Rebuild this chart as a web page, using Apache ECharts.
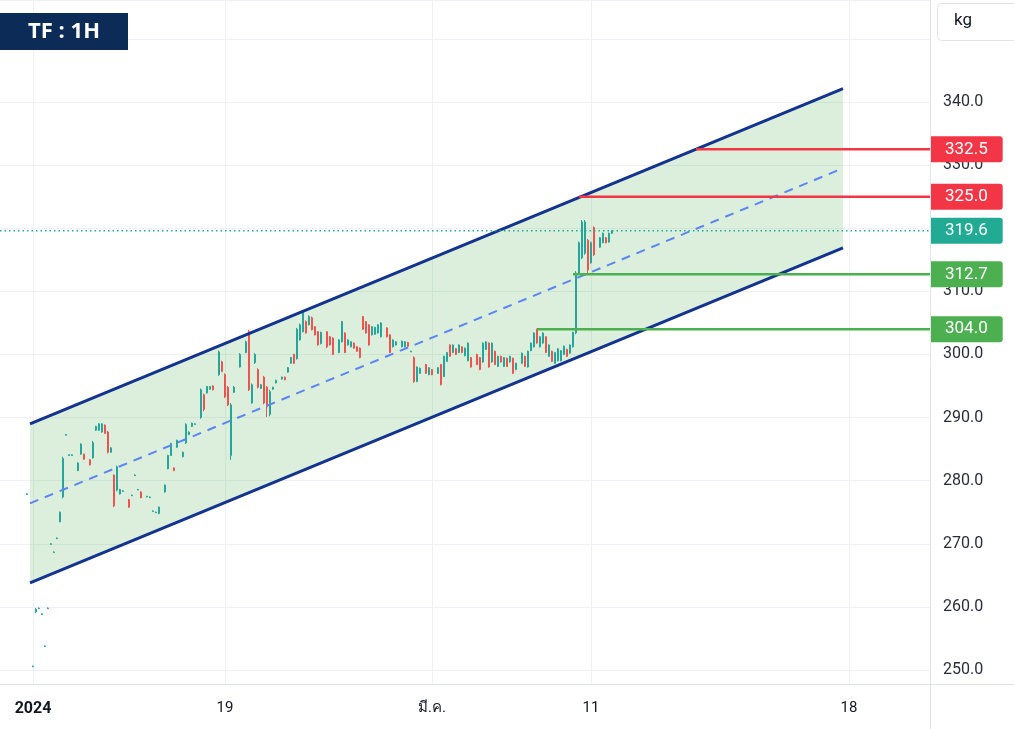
<!DOCTYPE html>
<html><head><meta charset="utf-8">
<script src="https://cdn.jsdelivr.net/npm/echarts@6.0.0/dist/echarts.min.js"></script>
<style>html,body{margin:0;padding:0;background:#fff}#c{width:1014px;height:729px}</style>
</head><body><div id="c"></div>
<script>
// ---- data ----
const slotCount = 311;                       // hourly bar slots incl. future space
const tickIdx  = [11, 75, 144, 197, 283];
const tickText = ['2024', '19', 'มี.ค.', '11', '18'];
const priceTicks = [250, 260, 270, 280, 290, 300, 310, 320, 330, 340];
// [barIndex, open, close, low, high]
const candleRows = [
[9,277.8,277.9,277.8,278.0],[11,250.5,250.6,250.5,250.7],[12,259.2,259.6,259.0,259.8],[13,259.7,259.8,259.7,259.9],
[14,258.8,258.9,258.8,259.0],[15,253.7,253.8,253.7,253.9],[16,259.7,259.8,259.7,259.9],[17,269.9,270.0,269.9,270.1],
[18,268.6,268.7,268.6,268.8],[19,270.8,270.9,270.8,271.0],[20,273.5,275.0,273.4,275.1],[21,277.4,283.5,277.2,283.8],
[22,287.2,287.3,287.2,287.4],[23,284.0,284.1,283.9,284.2],[24,284.0,284.1,284.0,284.2],[26,281.6,282.8,281.5,282.9],
[27,284.2,285.8,284.1,285.9],[28,284.2,283.4,283.3,284.3],[30,283.3,282.5,282.4,283.4],[31,283.6,286.0,283.5,286.3],
[32,288.0,288.6,287.9,288.7],[33,288.0,289.0,287.9,289.1],[34,287.7,289.0,287.6,289.1],[35,288.8,287.5,287.4,288.9],
[36,287.7,284.5,284.3,287.9],[37,284.5,285.2,284.4,285.3],[38,280.9,276.0,275.8,281.0],[39,278.5,282.2,278.3,282.4],
[40,277.9,278.6,277.8,278.7],[41,278.3,278.4,278.3,278.5],[43,277.0,275.8,275.7,277.1],[44,277.6,277.7,277.6,277.8],
[45,280.8,280.9,280.8,281.0],[46,278.5,278.6,278.5,278.7],[47,278.2,277.3,277.2,278.3],[49,277.4,277.5,277.4,277.6],
[50,277.3,277.4,277.3,277.5],[51,275.1,275.2,275.1,275.3],[52,274.9,275.0,274.9,275.1],[53,274.8,275.8,274.7,275.9],
[55,278.2,279.3,278.1,279.4],[56,281.9,284.0,281.8,284.1],[57,284.0,285.9,283.9,286.0],[58,282.0,281.6,281.5,282.1],
[59,285.3,286.4,285.2,286.5],[61,283.8,284.5,283.7,284.6],[62,286.0,288.9,285.8,289.1],[63,287.3,287.7,287.2,287.8],
[64,288.6,289.1,288.5,289.2],[65,288.9,289.0,288.9,289.1],[67,290.0,294.4,289.8,294.6],[68,293.6,291.3,291.0,293.8],
[69,293.9,294.9,293.8,295.0],[70,294.5,294.9,294.4,295.0],[71,295.0,294.4,294.3,295.1],[73,296.8,300.4,296.6,300.6],
[74,298.8,297.3,297.2,299.0],[75,296.8,293.3,293.1,297.0],[76,294.8,292.0,291.8,295.0],[77,284.0,292.0,283.3,292.3],
[78,294.0,294.8,293.9,295.0],[80,298.0,300.0,297.9,300.2],[82,300.3,302.0,300.2,302.2],[83,303.6,294.4,294.2,303.9],
[84,292.3,295.2,292.2,295.4],[85,298.7,300.0,298.5,300.2],[86,297.6,294.8,294.6,297.8],[87,294.6,295.2,294.5,295.3],
[88,296.4,292.3,292.1,296.6],[89,294.8,291.7,290.1,295.0],[90,290.5,294.1,290.2,294.4],[91,294.5,294.8,294.4,294.9],
[92,295.5,295.9,295.4,296.0],[94,296.1,296.4,296.0,296.5],[95,296.4,296.0,295.9,296.5],[96,297.2,297.9,297.1,298.0],
[97,298.6,299.5,298.5,299.6],[98,300.0,298.6,298.5,300.1],[99,299.3,304.0,299.2,304.2],[100,302.3,304.7,302.2,304.9],
[101,303.6,306.6,303.5,306.8],[102,305.2,303.4,303.3,305.4],[103,304.7,306.0,304.6,306.2],[104,305.8,303.9,303.8,306.0],
[105,304.4,303.1,303.0,304.5],[106,303.6,301.5,301.4,303.7],[107,301.7,303.5,301.6,303.6],[109,303.6,301.2,301.0,303.7],
[110,302.8,301.5,301.4,302.9],[111,302.6,300.0,299.9,302.7],[113,300.3,302.3,300.2,302.4],[114,302.0,305.2,301.9,305.3],
[115,303.4,300.3,300.2,303.5],[116,301.5,302.3,301.4,302.4],[117,301.2,302.0,301.1,302.1],[118,301.8,301.0,300.9,301.9],
[119,301.2,300.5,300.4,301.3],[120,301.0,299.5,299.4,301.1],[121,306.0,304.0,303.9,306.1],[122,305.2,303.4,303.3,305.3],
[123,304.7,301.5,301.4,304.8],[124,303.1,304.4,303.0,304.5],[125,303.2,304.3,303.1,304.4],[126,303.4,304.7,303.3,304.8],
[127,302.8,305.0,302.7,305.1],[129,304.2,302.8,302.7,304.3],[130,303.1,300.3,300.2,303.2],[131,301.2,302.3,301.1,302.4],
[132,301.5,302.0,301.4,302.1],[134,301.2,302.1,301.1,302.2],[135,301.2,302.0,301.1,302.1],[136,301.9,301.3,301.2,302.0],
[137,300.4,300.5,300.4,300.6],[138,299.5,295.7,295.5,299.7],[139,295.7,298.0,295.6,298.1],[140,297.0,297.8,296.9,297.9],
[142,298.4,297.0,296.9,298.5],[143,296.8,297.9,296.7,298.0],[144,297.6,296.8,296.7,297.7],[146,297.0,297.9,296.9,298.0],
[147,298.4,295.2,295.1,298.5],[148,296.5,299.7,296.4,299.8],[149,298.9,300.3,298.8,300.4],[150,301.5,299.7,299.6,301.6],
[151,300.3,301.5,300.2,301.6],[152,300.9,300.0,299.9,301.0],[153,300.3,301.5,300.2,301.6],[154,301.2,300.3,300.2,301.3],
[155,299.8,301.0,299.7,301.1],[156,299.0,301.8,298.9,301.9],[157,299.5,298.0,297.9,299.6],[159,300.0,298.4,298.3,300.1],
[160,299.5,297.6,297.5,299.6],[161,298.8,301.8,298.7,301.9],[162,300.8,302.0,300.7,302.1],[163,301.8,298.0,297.9,301.9],
[164,298.8,301.8,298.7,301.9],[165,300.5,298.4,298.3,300.6],[166,298.1,299.7,298.0,299.8],[167,299.7,298.8,298.7,299.8],
[168,298.1,299.5,298.0,299.6],[169,299.4,298.1,298.0,299.5],[170,298.8,299.7,298.7,299.8],[171,299.4,297.0,296.9,299.5],
[172,297.6,298.6,297.5,298.7],[174,298.6,300.2,298.5,300.3],[175,299.7,298.1,298.0,299.8],[176,298.0,300.5,297.9,300.6],
[177,300.6,301.8,300.5,301.9],[178,301.2,303.4,301.1,303.5],[179,303.9,301.8,301.7,304.1],[180,301.2,302.8,301.1,302.9],
[181,301.8,303.4,301.7,303.5],[182,302.8,300.3,300.2,302.9],[183,299.7,301.5,299.6,301.6],[184,300.5,298.9,298.8,300.6],
[185,298.6,300.3,298.5,300.4],[186,299.0,300.9,298.9,301.0],[187,299.0,300.6,298.9,300.7],[188,300.0,301.3,299.9,301.4],
[189,300.8,299.7,299.6,300.9],[190,300.2,301.5,300.1,301.6],[191,301.2,303.5,301.1,303.6],[192,303.4,312.9,303.2,313.2],
[193,312.9,317.7,312.7,317.9],[194,315.3,321.0,315.1,321.3],[195,316.0,321.0,315.8,321.3],[196,318.1,313.4,312.8,318.3],
[197,314.5,317.7,314.4,317.9],[198,320.1,315.8,315.6,320.3],[200,317.0,318.5,316.9,318.6],[201,317.7,319.2,317.6,319.3],
[202,318.5,317.7,317.6,318.6],[203,317.8,319.2,317.7,319.3],[204,319.2,319.6,319.1,319.7]
];
// channel (parallel trend lines), bar index of both ends
const channelIdx   = [10, 281];
const channelUpper = [289.0, 342.1];
const channelMid   = [276.4, 329.5];
const channelLower = [263.8, 316.9];
// price levels
const levelValues = [332.5, 325.0, 319.6, 312.7, 304.0];
const levelStart  = [232, 193, 0, 191, 179];
</script>
<script>
const levelColors = ['#f23645', '#f23645', '#22ab94', '#4caf50', '#4caf50'];
const levelDotted = [false, false, true, false, false];
const FONT = 'Roboto, "Liberation Sans", "DejaVu Sans", sans-serif';

const categories = [];
for (let i = 0; i < slotCount; i++) {
  const k = tickIdx.indexOf(i);
  categories.push(k >= 0 ? tickText[k] : '');
}
const ohlc = [];
for (let i = 0; i < slotCount; i++) ohlc.push('-');
candleRows.forEach(r => { ohlc[r[0]] = [r[1], r[2], r[3], r[4]]; });

const isTick = (i) => tickIdx.indexOf(i) >= 0;
const last = slotCount - 1;

const series = [];
series.push({
  type: 'custom', z: 1, silent: true, data: [[0]],
  renderItem: function (params, api) {
    const pts = [
      api.coord([channelIdx[0], channelUpper[0]]),
      api.coord([channelIdx[1], channelUpper[1]]),
      api.coord([channelIdx[1], channelLower[1]]),
      api.coord([channelIdx[0], channelLower[0]])
    ];
    return { type: 'polygon', shape: { points: pts }, style: { fill: 'rgba(76,175,80,0.2)' } };
  }
});
series.push({
  type: 'candlestick', z: 2, data: ohlc, barWidth: 2,
  itemStyle: { color: '#26a69a', color0: '#ef5350', borderColor: '#26a69a', borderColor0: '#ef5350', borderWidth: 1 }
});
function chanLine(vals, style) {
  return { type: 'line', z: 4, showSymbol: false, symbol: 'none', silent: true,
    data: [[channelIdx[0], vals[0]], [channelIdx[1], vals[1]]], lineStyle: style };
}
series.push(chanLine(channelUpper, { color: '#13338f', width: 3 }));
series.push(chanLine(channelLower, { color: '#13338f', width: 3 }));
series.push(chanLine(channelMid, { color: '#5b84f5', width: 2, type: [9, 7] }));

levelValues.forEach((v, i) => {
  series.push({
    type: 'line', z: 5, showSymbol: false, symbol: 'none', silent: true,
    data: [[levelStart[i], v], [last, v]],
    lineStyle: levelDotted[i] ? { color: levelColors[i], width: 1.5, type: [1.5, 3] } : { color: levelColors[i], width: 2.5 },
    endLabel: {
      show: true, distance: 0, formatter: v.toFixed(1),
      color: '#ffffff', backgroundColor: levelColors[i], fontFamily: FONT, fontSize: 17,
      lineHeight: 19, padding: [4, 15, 3, 15], borderRadius: [0, 3, 3, 0]
    }
  });
});

const chart = echarts.init(document.getElementById('c'), null, { renderer: 'canvas' });
chart.setOption({
  animation: false,
  backgroundColor: '#ffffff',
  grid: { left: 0, right: 84, top: 0, bottom: 45, containLabel: false, outerBoundsMode: 'none' },
  xAxis: {
    type: 'category', data: categories, boundaryGap: false,
    axisLine: { show: true, lineStyle: { color: '#e0e3eb', width: 1 } },
    axisTick: { show: false },
    axisLabel: {
      interval: (i) => isTick(i), margin: 17, color: '#131722', fontFamily: FONT, fontSize: 15,
      formatter: (v) => v === '2024' ? '{y|2024}' : v,
      rich: { y: { fontWeight: 'bold', fontSize: 16, color: '#131722', fontFamily: FONT } }
    },
    splitLine: { show: true, interval: (i) => isTick(i), lineStyle: { color: '#eef0f4', width: 1 } }
  },
  yAxis: {
    type: 'value', position: 'right', min: 247.78, max: 356.16, splitNumber: 11, scale: true,
    axisLine: { show: false }, axisTick: { show: false },
    axisLabel: {
      margin: 13, color: '#2a2e39', fontFamily: FONT, fontSize: 16,
      showMinLabel: false, showMaxLabel: false,
      formatter: (v) => {
        const r = Math.round(v);
        return priceTicks.indexOf(r) >= 0 && Math.abs(v - r) < 1e-6 ? r.toFixed(1) : '';
      }
    },
    splitLine: { show: true, lineStyle: { color: '#eef0f4', width: 1 } }
  },
  graphic: [
    { type: 'line', z: 50, silent: true, shape: { x1: 930.5, y1: 0, x2: 930.5, y2: 729 }, style: { stroke: '#e0e3eb', lineWidth: 1 } },
    { type: 'line', z: 50, silent: true, shape: { x1: 0, y1: 684.5, x2: 1014, y2: 684.5 }, style: { stroke: '#e0e3eb', lineWidth: 1 } },
    { type: 'rect', z: 100, silent: true, shape: { x: 0, y: 13, width: 128, height: 37 }, style: { fill: '#0c2b57' } },
    { type: 'text', z: 101, silent: true, x: 64, y: 32,
      style: { text: 'TF : 1H', fill: '#ffffff', font: 'bold 22px "Open Sans", Roboto, sans-serif', align: 'center', verticalAlign: 'middle' } },
    { type: 'rect', z: 100, silent: true, shape: { x: 937.5, y: 3.5, width: 90, height: 37, r: 4 }, style: { fill: '#ffffff', stroke: '#e0e3eb', lineWidth: 1 } },
    { type: 'text', z: 101, silent: true, x: 963, y: 21,
      style: { text: 'kg', fill: '#131722', font: '17px ' + FONT, align: 'center', verticalAlign: 'middle' } }
  ],
  series: series
});
</script>
</body></html>
